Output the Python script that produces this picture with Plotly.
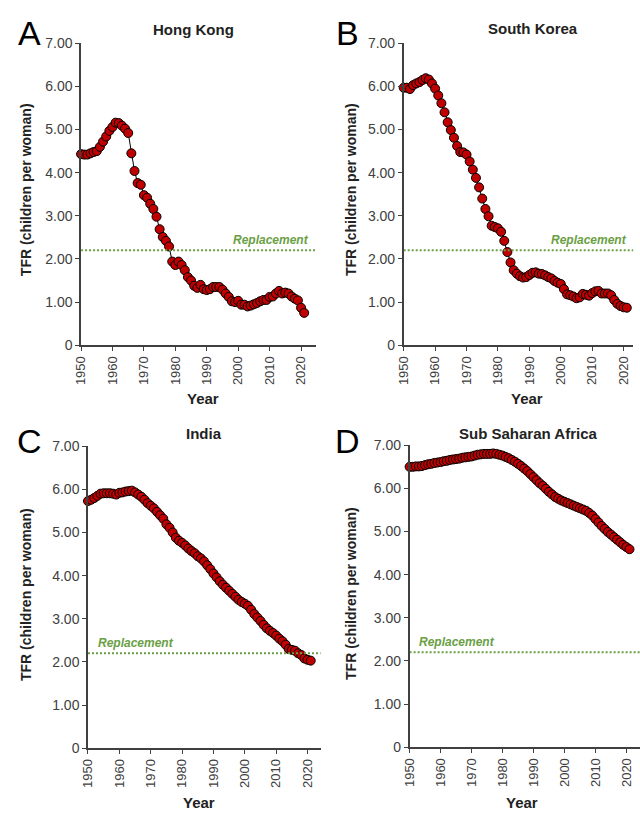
import plotly.graph_objects as go

years = list(range(1950, 2022))

hong_kong = [4.43, 4.42, 4.42, 4.45, 4.48, 4.50, 4.60, 4.72, 4.84, 4.97,
             5.06, 5.16, 5.15, 5.09, 5.02, 4.92, 4.45, 4.04, 3.76, 3.72,
             3.48, 3.42, 3.28, 3.16, 2.98, 2.69, 2.51, 2.42, 2.29, 1.94,
             1.86, 1.94, 1.86, 1.74, 1.58, 1.50, 1.38, 1.33, 1.40, 1.30,
             1.28, 1.30, 1.35, 1.35, 1.35, 1.29, 1.20, 1.12, 1.02, 1.00,
             1.03, 0.94, 0.94, 0.90, 0.92, 0.95, 0.98, 1.02, 1.05, 1.05,
             1.12, 1.13, 1.20, 1.26, 1.20, 1.22, 1.20, 1.13, 1.08, 1.04,
             0.87, 0.75]

south_korea = [5.97, 5.97, 5.94, 6.03, 6.07, 6.10, 6.15, 6.19, 6.16, 6.07,
               5.95, 5.79, 5.61, 5.40, 5.17, 4.99, 4.81, 4.62, 4.48, 4.47,
               4.42, 4.26, 4.07, 3.88, 3.66, 3.40, 3.16, 2.99, 2.77, 2.74,
               2.71, 2.63, 2.42, 2.16, 1.92, 1.74, 1.66, 1.60, 1.57, 1.58,
               1.63, 1.68, 1.69, 1.66, 1.65, 1.62, 1.58, 1.55, 1.49, 1.45,
               1.42, 1.30, 1.18, 1.16, 1.13, 1.09, 1.11, 1.19, 1.17, 1.15,
               1.21, 1.25, 1.26, 1.20, 1.20, 1.20, 1.16, 1.05, 0.96, 0.91,
               0.88, 0.87]

india = [5.73, 5.76, 5.80, 5.85, 5.90, 5.91, 5.91, 5.91, 5.90, 5.88,
         5.92, 5.93, 5.95, 5.96, 5.97, 5.93, 5.88, 5.83, 5.76, 5.68,
         5.62, 5.56, 5.48, 5.40, 5.32, 5.19, 5.11, 5.00, 4.88, 4.81,
         4.76, 4.70, 4.63, 4.57, 4.52, 4.45, 4.40, 4.33, 4.24, 4.15,
         4.05, 3.96, 3.87, 3.79, 3.72, 3.65, 3.58, 3.51, 3.44, 3.39,
         3.35, 3.30, 3.21, 3.11, 3.03, 2.95, 2.86, 2.78, 2.72, 2.67,
         2.61, 2.54, 2.48, 2.40, 2.30, 2.28, 2.26, 2.20, 2.16, 2.08,
         2.05, 2.03]

sub_saharan_africa = [6.50, 6.50, 6.51, 6.51, 6.52, 6.54, 6.56, 6.57, 6.59, 6.60,
                      6.61, 6.63, 6.64, 6.66, 6.67, 6.68, 6.69, 6.71, 6.72, 6.73,
                      6.74, 6.76, 6.78, 6.79, 6.80, 6.80, 6.80, 6.81, 6.80, 6.78,
                      6.76, 6.73, 6.70, 6.66, 6.62, 6.57, 6.52, 6.46, 6.40, 6.33,
                      6.26, 6.19, 6.12, 6.06, 5.99, 5.92, 5.86, 5.80, 5.76, 5.72,
                      5.69, 5.66, 5.63, 5.60, 5.57, 5.54, 5.51, 5.48, 5.43, 5.37,
                      5.29, 5.21, 5.13, 5.06, 4.99, 4.93, 4.87, 4.81, 4.75, 4.69,
                      4.64, 4.59]

titles = ["Hong Kong", "South Korea", "India", "Sub Saharan Africa"]
letters = ["A", "B", "C", "D"]
series = [hong_kong, south_korea, india, sub_saharan_africa]
replacement = 2.2

x_ticks = list(range(1950, 2021, 10))
y_ticks = [0, 1, 2, 3, 4, 5, 6, 7]
y_ticktext = ["0", "1.00", "2.00", "3.00", "4.00", "5.00", "6.00", "7.00"]

W, H = 640, 816
def px(x): return x / W
def py(y): return 1 - y / H

# panel geometry in pixels: (x_left, x_right, y_top(7.00), y_bottom(0), x_range_end)
panels = [
    (74.0, 311.7, 36, 344, 2024.7),
    (400.7, 633.3, 36, 344, 2023.1),
    (81.0, 316.7, 447, 755, 2024.2),
    (406.7, 640.0, 446, 754, 2024.4),
]

FONT = "Arial, Liberation Sans, sans-serif"
GREEN = "#6A9F45"
RED = "#C00000"
AXC = "#404040"

fig = go.Figure()
annotations = []
shapes = []
layout = {}

for i, (vals, (xl, xr, yt, yb, xend)) in enumerate(zip(series, panels)):
    n = "" if i == 0 else str(i + 1)
    fig.add_trace(go.Scatter(
        x=years, y=vals, mode="lines+markers",
        xaxis="x" + n, yaxis="y" + n,
        line=dict(color="black", width=1),
        marker=dict(size=9, color=RED, line=dict(color="black", width=1)),
        showlegend=False, cliponaxis=False,
    ))
    layout["xaxis" + n] = dict(
        domain=[px(xl), px(xr)], range=[1950, xend], anchor="y" + n,
        tickmode="array", tickvals=x_ticks, ticktext=[str(t) for t in x_ticks],
        tickangle=-90, ticks="outside", ticklen=4, tickcolor=AXC, tickwidth=1,
        showline=True, linecolor=AXC, linewidth=1.5, showgrid=False, zeroline=False,
        tickfont=dict(family=FONT, size=13, color=AXC),
    )
    layout["yaxis" + n] = dict(
        domain=[py(yb), py(yt)], range=[0, 7], anchor="x" + n,
        tickmode="array", tickvals=y_ticks, ticktext=y_ticktext,
        ticks="outside", ticklen=4, tickcolor=AXC, tickwidth=1,
        showline=True, linecolor=AXC, linewidth=1.5, showgrid=False, zeroline=False,
        tickfont=dict(family=FONT, size=14, color=AXC),
    )
    # replacement line
    shapes.append(dict(type="line", xref="x" + n, yref="y" + n,
                       x0=1950, x1=xend, y0=replacement, y1=replacement,
                       line=dict(color=GREEN, width=2, dash="2px,2px")))
    # replacement label
    if i < 2:
        annotations.append(dict(xref="x" + n, yref="y" + n, x=xend - 1.5, y=replacement,
                                text="<b><i>Replacement</i></b>", showarrow=False,
                                xanchor="right", yanchor="bottom", yshift=1,
                                font=dict(family=FONT, size=12, color=GREEN)))
    else:
        annotations.append(dict(xref="x" + n, yref="y" + n, x=1952.5, y=replacement,
                                text="<b><i>Replacement</i></b>", showarrow=False,
                                xanchor="left", yanchor="bottom", yshift=1,
                                font=dict(family=FONT, size=12, color=GREEN)))

# titles
title_pos = [(188, 22), (532, 21), (198, 434), (527, 434)]
for t, (x, y) in zip(titles, title_pos):
    annotations.append(dict(xref="paper", yref="paper", x=px(x), y=py(y),
                            text="<b>" + t + "</b>", showarrow=False,
                            xanchor="center", yanchor="middle",
                            font=dict(family=FONT, size=15, color="#222222")))
# panel letters
letter_pos = [(22, 26), (344, 26), (22, 442), (344, 442)]
for t, (x, y) in zip(letters, letter_pos):
    annotations.append(dict(xref="paper", yref="paper", x=px(x), y=py(y),
                            text=t, showarrow=False,
                            xanchor="center", yanchor="middle",
                            font=dict(family=FONT, size=34, color="black")))
# y titles
ytitle_pos = [(19, 185), (348, 185), (19, 598), (348, 597)]
for (x, y) in ytitle_pos:
    annotations.append(dict(xref="paper", yref="paper", x=px(x), y=py(y),
                            text="<b>TFR (children per woman)</b>", showarrow=False,
                            textangle=-90, xanchor="center", yanchor="middle",
                            font=dict(family=FONT, size=14, color="#222222")))
# x titles
xtitle_pos = [(197, 398), (526, 398), (193, 810), (521, 810)]
for (x, y) in xtitle_pos:
    annotations.append(dict(xref="paper", yref="paper", x=px(x), y=py(y),
                            text="<b>Year</b>", showarrow=False,
                            xanchor="center", yanchor="middle",
                            font=dict(family=FONT, size=15, color="#222222")))

fig.update_layout(
    width=W, height=H, margin=dict(l=0, r=0, t=0, b=0),
    paper_bgcolor="white", plot_bgcolor="white",
    annotations=annotations, shapes=shapes, **layout,
)
fig.write_html("out.html")
